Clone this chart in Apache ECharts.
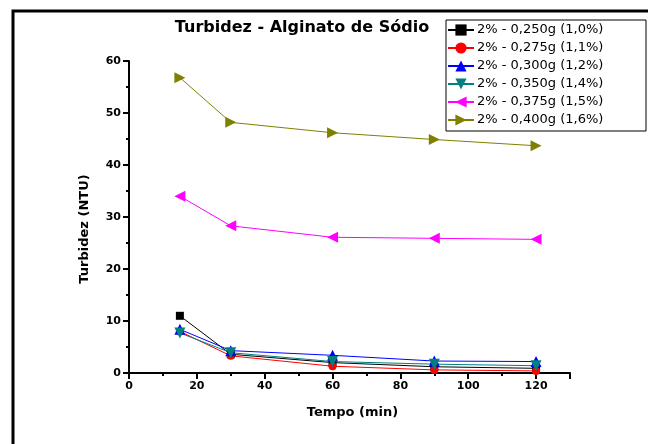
<!DOCTYPE html>
<html>
<head>
<meta charset="utf-8">
<title>Turbidez - Alginato de Sódio</title>
<script src="https://cdn.jsdelivr.net/npm/echarts@6/dist/echarts.min.js"></script>
<style>
  html, body { margin: 0; padding: 0; background: #fff; }
  #main { width: 648px; height: 444px; }
</style>
</head>
<body>
<div id="main"></div>
<script>
// sampling times (min)
var tempos = [15, 30, 60, 90, 120];

// turbidity (NTU) per dosage
var s250 = [11.0, 3.6, 2.0, 1.2, 0.9];
var s275 = [8.0, 3.3, 1.3, 0.6, 0.4];
var s300 = [8.4, 4.3, 3.4, 2.3, 2.2];
var s350 = [7.7, 3.9, 2.2, 1.7, 1.4];
var s375 = [34.0, 28.3, 26.1, 25.9, 25.7];
var s400 = [56.8, 48.2, 46.2, 44.9, 43.7];

var nomes = [
    '2% - 0,250g (1,0%)',
    '2% - 0,275g (1,1%)',
    '2% - 0,300g (1,2%)',
    '2% - 0,350g (1,4%)',
    '2% - 0,375g (1,5%)',
    '2% - 0,400g (1,6%)'
];

var myChart = echarts.init(document.getElementById('main'));

function pares(vals) {
    return tempos.map(function(t, i) { return [t, vals[i]]; });
}

function serie(nome, vals, cor, simbolo, rot, tam) {
    return {
        name: nome,
        type: 'line',
        data: pares(vals),
        symbol: simbolo,
        symbolSize: tam,
        symbolRotate: rot,
        showAllSymbol: true,
        itemStyle: { color: cor },
        lineStyle: { color: cor, width: 1 },
        emphasis: { disabled: true },
        animation: false
    };
}

var fonte = '"DejaVu Sans", Verdana, sans-serif';

var option = {
    backgroundColor: '#fff',
    animation: false,
    title: {
        text: 'Turbidez - Alginato de Sódio',
        left: 297,
        top: 15,
        textAlign: 'center',
        textStyle: { fontFamily: fonte, fontSize: 16, fontWeight: 'bold', color: '#000' }
    },
    graphic: [{
        type: 'rect',
        shape: { x: 13, y: 11, width: 700, height: 500 },
        style: { fill: 'none', stroke: '#000', lineWidth: 3 },
        silent: true
    }, {
        type: 'rect',
        shape: { x: 446, y: 20, width: 200, height: 111 },
        style: { fill: '#fff', stroke: '#000', lineWidth: 1 },
        z: 1,
        silent: true
    }],
    legend: {
        orient: 'vertical',
        left: 447,
        top: 23,
        itemGap: 4,
        itemWidth: 26,
        itemHeight: 14,
        padding: 0,
        z: 5,
        data: nomes,
        textStyle: { fontFamily: fonte, fontSize: 13, color: '#000', padding: [0, 0, 0, -2], lineHeight: 14 }
    },
    grid: { left: 129, right: 78, top: 61, bottom: 71, containLabel: false },
    xAxis: {
        type: 'value',
        min: 0, max: 130, interval: 20,
        name: 'Tempo (min)',
        nameLocation: 'middle',
        nameGap: 33,
        nameTextStyle: { fontFamily: fonte, fontSize: 13, fontWeight: 'bold', color: '#000', padding: [0, 0, 0, 6] },
        axisLine: { onZero: false, lineStyle: { color: '#000', width: 2 } },
        axisTick: { show: true, length: 6, lineStyle: { color: '#000', width: 2 } },
        minorTick: { show: true, splitNumber: 2, length: 3, lineStyle: { color: '#000', width: 2 } },
        axisLabel: { fontFamily: fonte, fontSize: 11, fontWeight: 'bold', color: '#000', margin: 8, showMaxLabel: false },
        splitLine: { show: false }
    },
    yAxis: {
        type: 'value',
        min: 0, max: 60, interval: 10,
        name: 'Turbidez (NTU)',
        nameLocation: 'middle',
        nameGap: 38,
        nameTextStyle: { fontFamily: fonte, fontSize: 13, fontWeight: 'bold', color: '#000', padding: [0, 24, 0, 0] },
        axisLine: { show: true, onZero: false, lineStyle: { color: '#000', width: 2 } },
        axisTick: { show: true, length: 6, lineStyle: { color: '#000', width: 2 } },
        minorTick: { show: true, splitNumber: 2, length: 3, lineStyle: { color: '#000', width: 2 } },
        axisLabel: { fontFamily: fonte, fontSize: 11, fontWeight: 'bold', color: '#000', margin: 8 },
        splitLine: { show: false }
    },
    series: [
        serie(nomes[0], s250, '#000000', 'rect', 0, 8),
        serie(nomes[1], s275, '#ff0000', 'circle', 0, 8),
        serie(nomes[2], s300, '#0000ff', 'triangle', 0, 11),
        serie(nomes[3], s350, '#008080', 'triangle', 180, 11),
        serie(nomes[4], s375, '#ff00ff', 'triangle', 90, 11),
        serie(nomes[5], s400, '#808000', 'triangle', -90, 11)
    ]
};

// Load data into the ECharts instance
myChart.setOption(option);
</script>
</body>
</html>
